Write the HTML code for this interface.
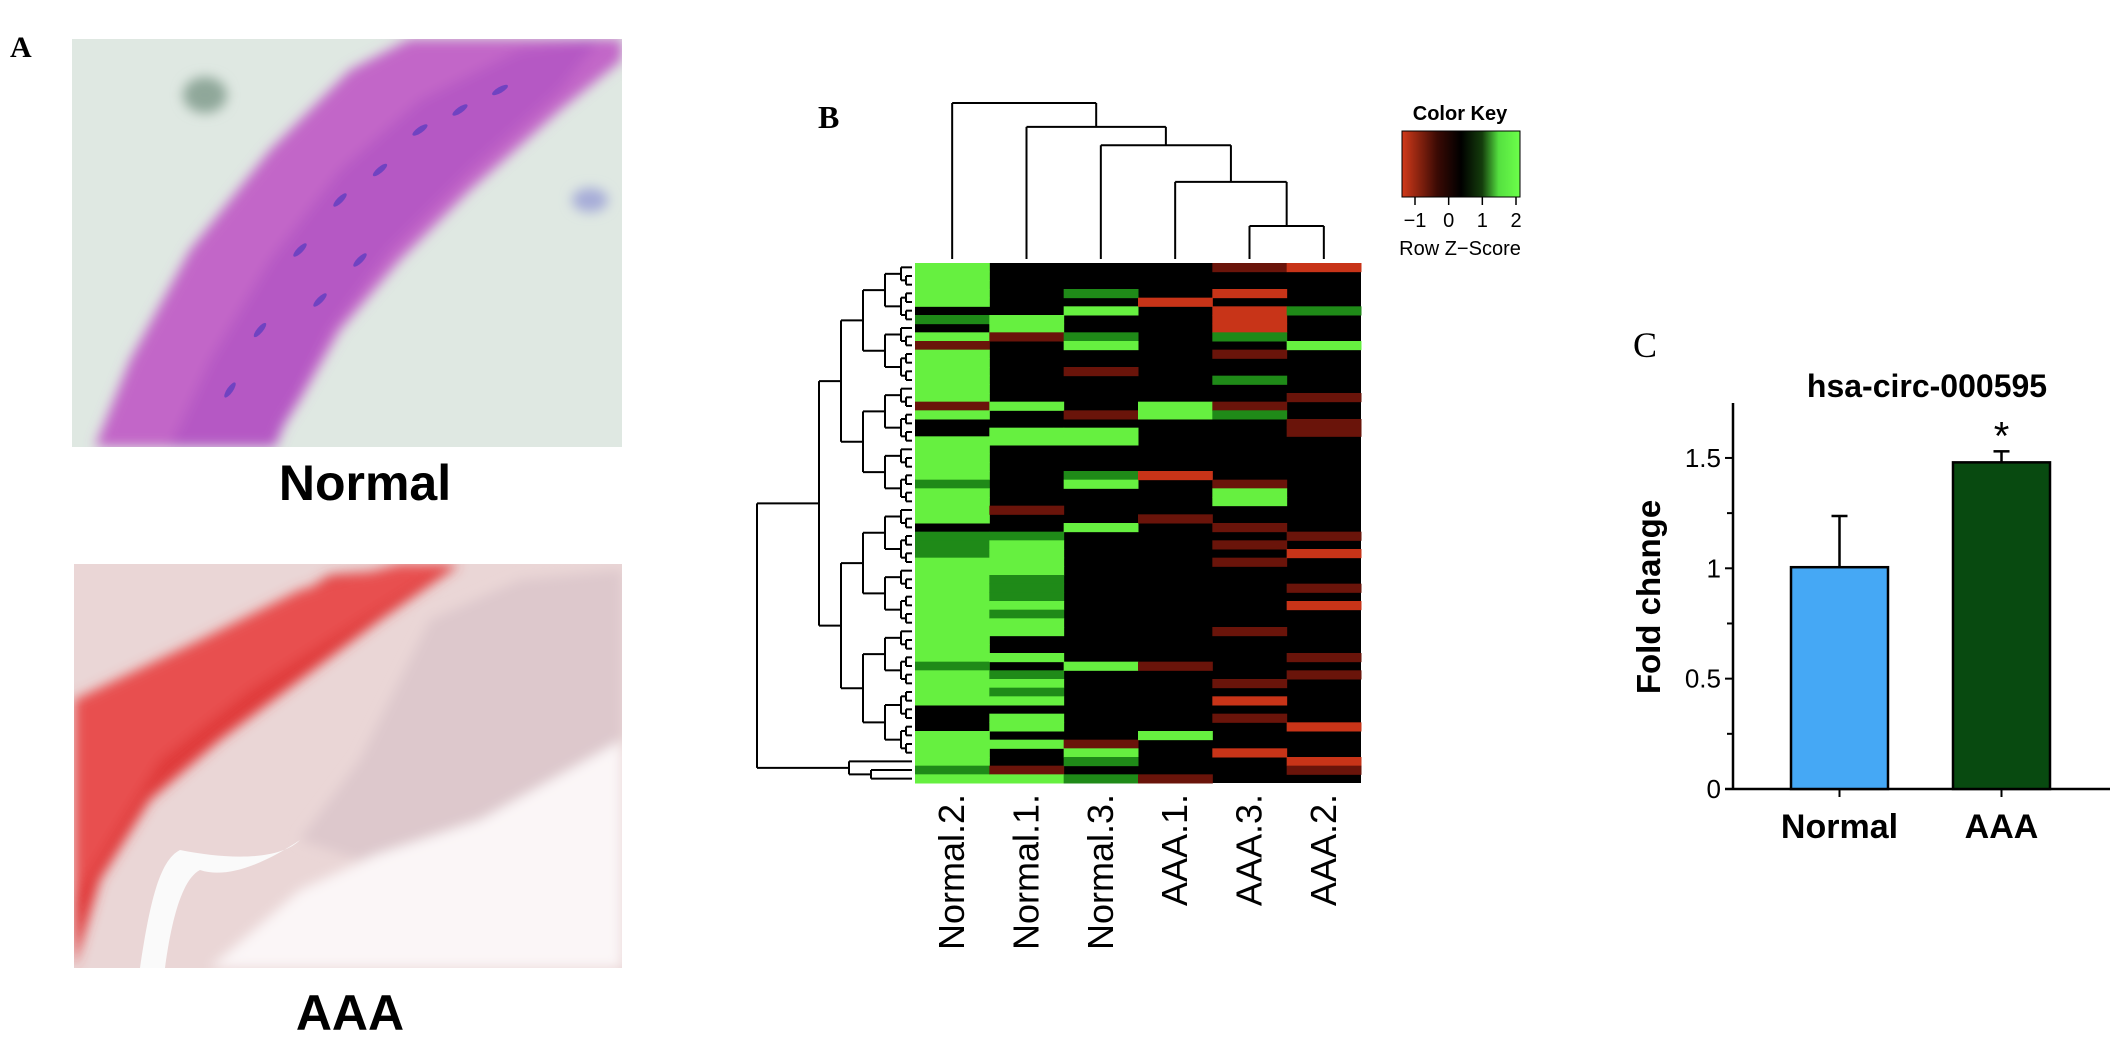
<!DOCTYPE html>
<html><head><meta charset="utf-8">
<style>
body{margin:0;background:#fff;}
svg{display:block;}
text{font-family:"Liberation Sans",Arial,sans-serif;}
text.serif{font-family:"Liberation Serif","Times New Roman",serif;}
</style></head>
<body>
<svg id="fig" width="2128" height="1040" viewBox="0 0 2128 1040" xmlns="http://www.w3.org/2000/svg">
<defs>
<filter id="bl" x="-10%" y="-10%" width="120%" height="120%"><feGaussianBlur stdDeviation="6"/></filter>
<linearGradient id="ck" x1="0" x2="1" y1="0" y2="0">
<stop offset="0" stop-color="#d23a1a"/><stop offset="0.3" stop-color="#3a0a04"/><stop offset="0.5" stop-color="#000"/><stop offset="0.68" stop-color="#143d0c"/><stop offset="0.82" stop-color="#55e040"/><stop offset="1" stop-color="#6cff4a"/>
</linearGradient>
<clipPath id="c1"><rect x="72" y="39" width="550" height="408"/></clipPath>
<clipPath id="c2"><rect x="74" y="564" width="548" height="404"/></clipPath>
</defs>

<!-- Panel A -->
<text class="serif" x="10" y="57" font-weight="bold" font-size="30">A</text>
<g clip-path="url(#c1)">
<rect x="72" y="39" width="550" height="408" fill="#dfe8e2"/>
<g filter="url(#bl)">
<polygon points="95,447 130,360 190,250 270,150 350,70 410,39 622,39 622,60 560,110 470,190 400,260 340,330 300,400 270,447" fill="#c266c8"/>
<polygon points="170,447 210,360 270,260 340,170 420,100 520,50 600,39 560,90 470,170 390,250 330,330 290,410 275,447" fill="#b558c4"/>
<ellipse cx="205" cy="95" rx="22" ry="18" fill="#8fa79a"/>
<ellipse cx="590" cy="200" rx="18" ry="12" fill="#a6acd8"/>
</g>
<g fill="#5a3cc0" opacity="0.75">
<ellipse cx="300" cy="250" rx="9" ry="3" transform="rotate(-45 300 250)"/>
<ellipse cx="340" cy="200" rx="9" ry="3" transform="rotate(-45 340 200)"/>
<ellipse cx="380" cy="170" rx="9" ry="3" transform="rotate(-40 380 170)"/>
<ellipse cx="260" cy="330" rx="9" ry="3" transform="rotate(-50 260 330)"/>
<ellipse cx="320" cy="300" rx="9" ry="3" transform="rotate(-45 320 300)"/>
<ellipse cx="420" cy="130" rx="9" ry="3" transform="rotate(-35 420 130)"/>
<ellipse cx="460" cy="110" rx="9" ry="3" transform="rotate(-35 460 110)"/>
<ellipse cx="230" cy="390" rx="9" ry="3" transform="rotate(-55 230 390)"/>
<ellipse cx="360" cy="260" rx="9" ry="3" transform="rotate(-45 360 260)"/>
<ellipse cx="500" cy="90" rx="9" ry="3" transform="rotate(-30 500 90)"/>
</g>
</g>
<text x="365" y="500" text-anchor="middle" font-weight="bold" font-size="50">Normal</text>

<g clip-path="url(#c2)">
<rect x="74" y="564" width="548" height="404" fill="#ead6d6"/>
<g filter="url(#bl)">
<polygon points="74,720 150,680 260,620 330,575 460,564 380,620 300,680 220,740 150,800 100,880 74,968" fill="#e03a3a"/>
<polygon points="74,700 200,640 300,590 400,564 450,564 360,620 250,690 160,760 110,840 74,900" fill="#e85050"/>
<polygon points="210,968 300,890 430,830 622,740 622,968" fill="#fbf6f7"/>
<polygon points="430,620 520,580 622,570 622,740 480,820 360,860 300,840 360,760" fill="#ddc8cc"/>
</g>
<path d="M140,968 C150,900 160,860 180,850 C230,860 280,860 300,840 C270,860 230,880 200,870 C180,880 170,930 165,968Z" fill="#fafafa"/>
</g>
<text x="350" y="1030" text-anchor="middle" font-weight="bold" font-size="50">AAA</text>

<!-- Panel B -->
<text class="serif" x="818" y="128" font-weight="bold" font-size="32">B</text>
<g id="heat"></g>
<g id="rowdend"></g>
<g id="coldend"></g>
<g id="collabels"></g>
<g>
<text x="1460" y="120" text-anchor="middle" font-size="20" font-weight="bold">Color Key</text>
<rect x="1402" y="131" width="118" height="66" fill="url(#ck)" stroke="#000" stroke-width="1"/>
<g id="ckticks"></g>
<text x="1460" y="255" text-anchor="middle" font-size="20">Row Z−Score</text>
</g>

<!-- Panel C -->
<text class="serif" x="1633" y="357" font-size="36">C</text>
<text x="1927" y="397" text-anchor="middle" font-weight="bold" font-size="32">hsa-circ-000595</text>
<text transform="translate(1660,597) rotate(-90)" text-anchor="middle" font-weight="bold" font-size="33">Fold change</text>
<g id="barchart"></g>
</svg>

<script>
// ---------- Heatmap data ----------
const sampleNames = ["Normal.2.","Normal.1.","Normal.3.","AAA.1.","AAA.3.","AAA.2."];
// codes: G strong up, g mild up, . zero, r mild down, R strong down
const colNormal2 = "GGGGG.g.GrGGGGGGrG..GGGGGgGGGG.gggGGGGGGGGGGGGgGGGG...GGGGgG";
const colNormal1 = "......GGr.......G..GG.......r..gGGGGgggGgGG..G.gGgG.GG.G..rG";
const colNormal3 = "...g.G..gG..r....r.GG...gG....G...............G........rGg.g";
const colAAA1    = "....R...........GG......R....r................r.......G....r";
const colAAA3    = "r..R.RRRg.r..g..rg.......rGG..r.r.r.......r.....r.R.r...R...";
const colAAA2    = "R....g...G.....r..rr...........r.R...r.R.....r.r.....R...Rr.";
const heatCols = [colNormal2,colNormal1,colNormal3,colAAA1,colAAA3,colAAA2];
const codeValues = {"G":2,"g":1,".":0,"r":-0.6,"R":-1.2};
const colMergeHeights = [0.18,0.42,0.62,0.72,0.85];

// ---------- Bar chart data ----------
const barCategories = ["Normal","AAA"];
const barValues = [1.005,1.48];
const barErrors = [0.232,0.05];
const barColors = ["#45a8f5","#084a10"];
const yTicks = [0,0.5,1,1.5];
const yTickLabels = ["0","0.5","1","1.5"];
const yMinorTicks = [0.25,0.75,1.25];
const ckTickValues = [-1,0,1,2];

const NS="http://www.w3.org/2000/svg";
function mk(tag,attrs,parent){const e=document.createElementNS(NS,tag);for(const k in attrs)e.setAttribute(k,attrs[k]);parent.appendChild(e);return e;}
function colorFor(v){
  if(v>=1.5) return "#66f040";
  if(v>=0.5) return "#1f8a18";
  if(v>0) return "#0c3a08";
  if(v===0) return "#000";
  if(v>-1) return "#6a140a";
  return "#c83418";
}

const HX0=915,HX1=1361,HY0=263,HY1=783;
const nRows=heatCols[0].length, nCols=heatCols.length;
const cw=(HX1-HX0)/nCols, rh=(HY1-HY0)/nRows;
const xCol=i=>HX0+i*cw, yRow=r=>HY0+r*rh;
const heat=document.getElementById('heat');
mk('rect',{x:HX0,y:HY0,width:HX1-HX0,height:HY1-HY0,fill:"#000"},heat);
heatCols.forEach((col,ci)=>{
  for(let r=0;r<nRows;r++){
    const v=codeValues[col[r]]||0;
    if(v===0) continue;
    const c=mk('rect',{x:xCol(ci),y:yRow(r),width:cw+0.5,height:rh+0.5,fill:colorFor(v)},heat);
    
    
  }
});

const cl=document.getElementById('collabels');
sampleNames.forEach((s,i)=>{
  const cx=xCol(i)+cw/2+12;
  const t=mk('text',{transform:`translate(${cx},794) rotate(-90)`,"text-anchor":"end","font-size":"36"},cl);
  t.textContent=s;
  
  
});

const cd=document.getElementById('coldend');
const dTop=103, dBot=259;
const hy=h=>dBot-h*(dBot-dTop)/0.85;
const cx=i=>xCol(i)+cw/2;
function seg(x1,y1,x2,y2,p){mk('line',{x1,y1,x2,y2,stroke:"#000","stroke-width":2},p);}
function merge(xa,ya,xb,yb,h,p){const y=hy(h);seg(xa,ya,xa,y,p);seg(xb,yb,xb,y,p);seg(xa,y,xb,y,p);return [(xa+xb)/2,y];}
let m1=merge(cx(4),dBot,cx(5),dBot,colMergeHeights[0],cd);
let m2=merge(cx(3),dBot,m1[0],m1[1],colMergeHeights[1],cd);
let m3=merge(cx(2),dBot,m2[0],m2[1],colMergeHeights[2],cd);
let m4=merge(cx(1),dBot,m3[0],m3[1],colMergeHeights[3],cd);
merge(cx(0),dBot,m4[0],m4[1],colMergeHeights[4],cd);

const rd=document.getElementById('rowdend');
const RX0=757, RX1=912;
function build(lo,hi,depth){
  if(hi-lo<=1){return {y:yRow(lo)+rh/2,x:RX1};}
  let mid=Math.floor((lo+hi)/2);
  if(depth===0) mid=hi-3;
  const a=build(lo,mid,depth+1), b=build(mid,hi,depth+1);
  const x= depth===0?RX0: Math.min(RX1-6, RX0+40+depth*22 + (hi-lo<4?30:0));
  const xx=Math.max(x, RX0+ (depth*24));
  const nx=Math.min(xx, Math.min(a.x,b.x)-5);
  mk('line',{x1:nx,y1:a.y,x2:nx,y2:b.y,stroke:"#000","stroke-width":2},rd);
  mk('line',{x1:nx,y1:a.y,x2:a.x,y2:a.y,stroke:"#000","stroke-width":2},rd);
  mk('line',{x1:nx,y1:b.y,x2:b.x,y2:b.y,stroke:"#000","stroke-width":2},rd);
  return {y:(a.y+b.y)/2,x:nx};
}
build(0,nRows,0);

const ck=document.getElementById('ckticks');
const ckx=v=>1415+(v+1)*(1516-1415)/3;
ckTickValues.forEach(v=>{
  mk('line',{x1:ckx(v),y1:197,x2:ckx(v),y2:205,stroke:"#000","stroke-width":1.5},ck);
  const t=mk('text',{x:ckx(v),y:227,"text-anchor":"middle","font-size":"20"},ck);
  t.textContent=(v<0?"−":"")+Math.abs(v);
  
  
});

const bc=document.getElementById('barchart');
const AX=1733, Y0=789, YTOP=403, XEND=2110;
const yS=v=>Y0-v*220.7;
const barX=[1791,1953], barW=97;
mk('line',{x1:AX,y1:YTOP,x2:AX,y2:Y0+1,stroke:"#000","stroke-width":2.5},bc);
mk('line',{x1:AX-8,y1:Y0,x2:XEND,y2:Y0,stroke:"#000","stroke-width":2.5},bc);
yTicks.forEach((v,i)=>{
  mk('line',{x1:AX-8,y1:yS(v),x2:AX,y2:yS(v),stroke:"#000","stroke-width":2},bc);
  const t=mk('text',{x:AX-12,y:yS(v)+9,"text-anchor":"end","font-size":"26"},bc);
  t.textContent=yTickLabels[i];
  
  
});
yMinorTicks.forEach(v=>{mk('line',{x1:AX-6,y1:yS(v),x2:AX,y2:yS(v),stroke:"#000","stroke-width":2},bc);});
barCategories.forEach((c,i)=>{
  const x=barX[i], top=yS(barValues[i]);
  const cxm=x+barW/2;
  mk('line',{x1:cxm,y1:top,x2:cxm,y2:yS(barValues[i]+barErrors[i]),stroke:"#000","stroke-width":2.5},bc);
  mk('line',{x1:cxm-8,y1:yS(barValues[i]+barErrors[i]),x2:cxm+8,y2:yS(barValues[i]+barErrors[i]),stroke:"#000","stroke-width":2.5},bc);
  const r=mk('rect',{x:x,y:top,width:barW,height:Y0-top,fill:barColors[i],stroke:"#000","stroke-width":2.5},bc);
  
  
  mk('line',{x1:cxm,y1:Y0,x2:cxm,y2:Y0+8,stroke:"#000","stroke-width":2},bc);
  const t=mk('text',{x:cxm,y:838,"text-anchor":"middle","font-size":"34","font-weight":"bold"},bc);
  t.textContent=c;
  
  
});
const star=mk('text',{x:barX[1]+barW/2,y:yS(barValues[1]+barErrors[1])-2,"text-anchor":"middle","font-size":"40"},bc);
star.textContent="*";


</script>
</body></html>
